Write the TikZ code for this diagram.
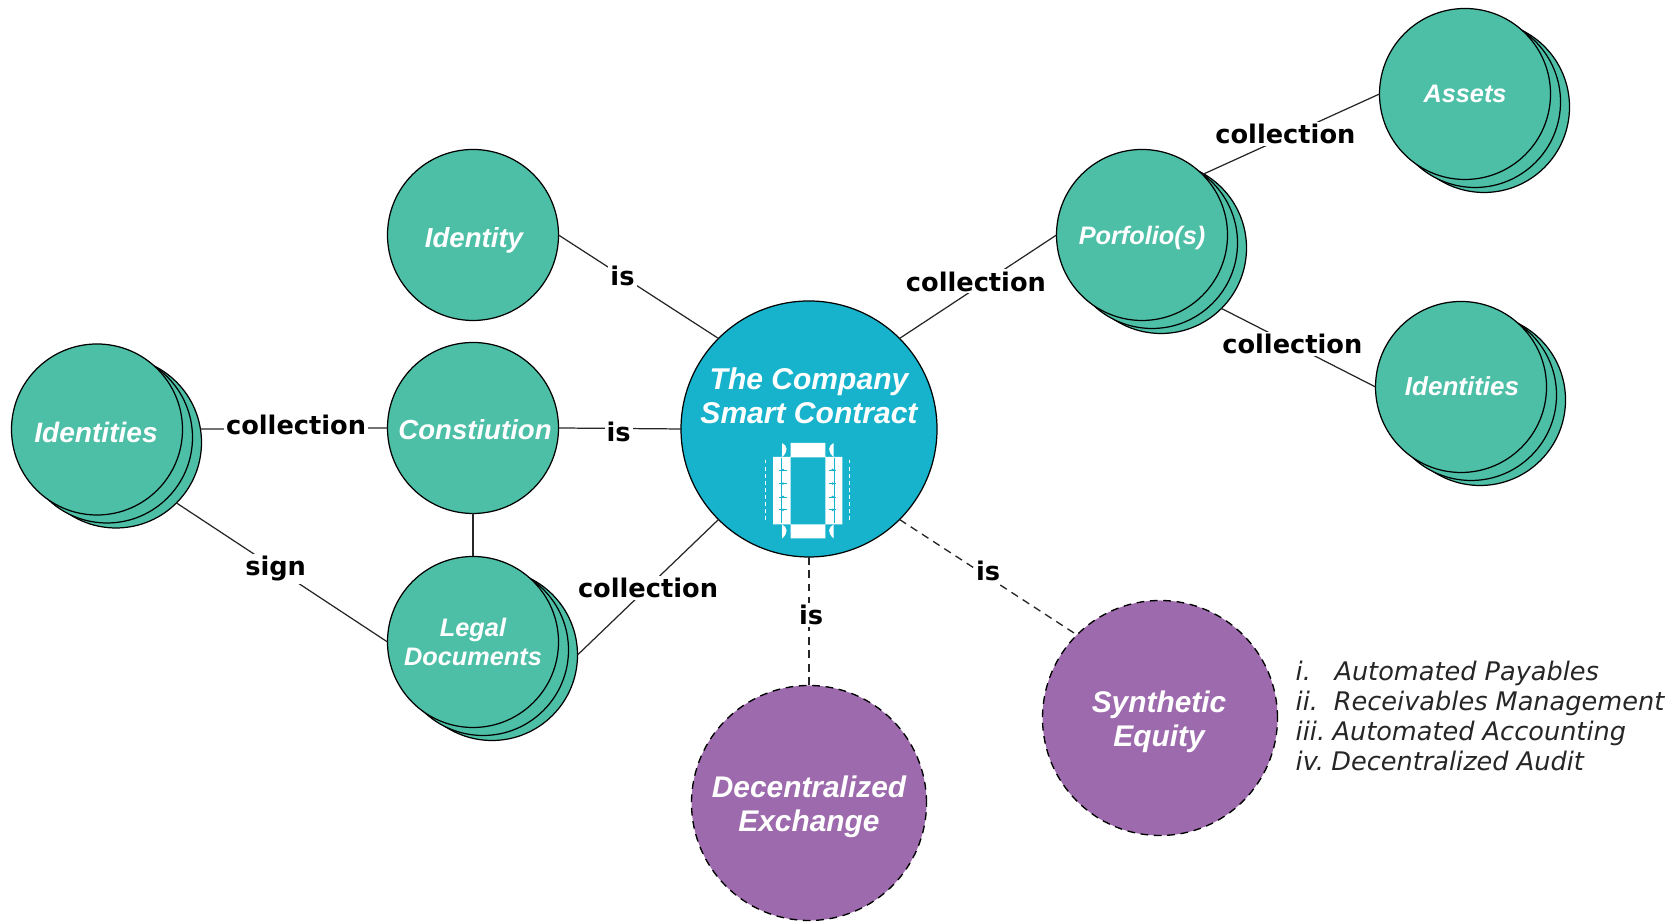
\documentclass[tikz,border=0pt]{standalone}
\usepackage{fontspec}
\setmainfont{DejaVu Sans}
\newfontfamily\circlefont{Liberation Sans}
\usetikzlibrary{positioning,calc,shapes}
\definecolor{tealgreen}{HTML}{4DBFA6}
\definecolor{contractblue}{HTML}{17B3CC}
\definecolor{dexpurple}{HTML}{9D6BAD}
\tikzset{
  conn/.style={line width=0.35pt,draw=black!85},
  dashconn/.style={line width=0.38pt,draw=black!85,dash pattern=on 2.2pt off 1.6pt},
  lbl/.style={font=\fontsize{7.3}{8}\selectfont\bfseries,fill=white,inner sep=0.6pt,text=black},
  ctext/.style 2 args={font=\circlefont\fontsize{#1}{#2}\selectfont\bfseries\itshape,text=white,align=center,inner sep=0pt},
  disc/.style={circle,draw=black,line width=0.35pt,fill=tealgreen,minimum size=1.71cm,inner sep=0pt,outer sep=0pt},
  purpledisc/.style={circle,draw=black,dash pattern=on 2.2pt off 1.6pt,line width=0.38pt,fill=dexpurple,minimum size=2.35cm,inner sep=0pt,outer sep=0pt}
}
\begin{document}
\begin{tikzpicture}
    \useasboundingbox (0,0) rectangle (16.72,9.22);
    \foreach \nm/\x/\y in {idsL/0.97/4.925, legal/4.73/2.80, port/11.42/6.87, assets/14.65/8.28, idsR/14.61/5.35} {
      \node at (\x+0.19,\y-0.13) [disc] (\nm Back) {};
      \node at (\x+0.10,\y-0.08) [disc] (\nm Mid) {};
      \node at (\x,\y) [disc] (\nm) {};
    }
    \node at (4.73,6.87) [disc] (identity) {};
    \node at (4.73,4.94) [disc] (const) {};
    \node at (8.09,4.93) [circle,draw=black,line width=0.35pt,fill=contractblue,minimum size=2.56cm,inner sep=0pt,outer sep=0pt] (main) {};
    \node at (8.09,1.19) [purpledisc] (dex) {};
    \node at (11.60,2.04) [purpledisc] (syn) {};

    \node at (0.96,4.90) [ctext={8}{9}] (idsLText) {Identities};
    \node at (4.73,2.80) [ctext={7.2}{8.45}] (legalText) {Legal\\Documents};
    \node at (11.42,6.84) [ctext={7.2}{9}] (portText) {Porfolio(s)};
    \node at (14.65,8.28) [ctext={7.2}{9}] (assetsText) {Assets};
    \node at (14.62,5.36) [ctext={7.4}{9}] (idsRText) {Identities};
    \node at (4.74,6.82) [ctext={7.85}{9}] (identityText) {Identity};
    \node at (4.75,4.92) [ctext={7.85}{9}] (constText) {Constiution};
    \node at (8.09,5.26) [ctext={8.55}{9.65}] (mainText) {The Company\\Smart Contract};
    \node at (8.09,1.15) [ctext={8.5}{9.65}] (dexText) {Decentralized\\Exchange};
    \node at (11.59,2.00) [ctext={8.5}{9.65}] (synText) {Synthetic\\Equity};

    \begin{scope}[x=0.003333cm,y=-0.003333cm,shift={(6.6cm,6.32cm)}]
      \fill[white] (393,460) rectangle (497,503) (393,705) rectangle (497,747)
        (340,502) rectangle (393,705) (497,502) rectangle (548,705);
      \draw[contractblue,line width=0.2pt] (365,505) -- (365,702) (523,505) -- (523,702);
      \foreach \py in {541,582,622,661} {
        \fill[contractblue] (370,\py) circle (4) (519,\py) circle (4);
        \draw[contractblue,line width=0.2pt] (359,\py) -- (381,\py) (508,\py) -- (530,\py);
      }
      \foreach \py in {460,705} {
        \fill[white] (367,\py) .. controls (383,\py+8) and (387,\py+25) .. (367,\py+42) -- cycle;
        \fill[white] (522,\py) .. controls (506,\py+8) and (502,\py+25) .. (522,\py+42) -- cycle;
      }
      \draw[white,line width=0.3pt,dash pattern=on 1.1pt off 0.9pt] (317,510) -- (317,695) (571,510) -- (571,695);
    \end{scope}

    \path[conn]
    (identity.east) edge node [lbl,pos=0.4] {is} (main.135)
    (const.east) edge node [lbl,yshift=-0.9pt,xshift=-0.3pt] {is} (main.west)
    (idsLBack.9) edge node [lbl,yshift=1pt,xshift=0.6pt] {collection} (const.west)
    (idsLBack.-45) edge node [lbl,pos=0.47,yshift=-0.2pt] {sign} (legal.west)
    (const.south) edge (legal.north)
    (legalBack.east) edge node [lbl,yshift=-0.3pt] {collection} (main.-135)
    (main.45) edge node [lbl,xshift=-0.6pt,yshift=1.5pt] {collection} (port.west)
    (port.45) edge node [lbl,xshift=-1.6pt] {collection} (assets.west)
    (portBack.-45) edge node [lbl,pos=0.46,yshift=0.2pt] {collection} (idsR.west);
    \path[dashconn]
    (main.south) edge node [lbl,pos=0.45,xshift=0.6pt] {is} (dex.north)
    (main.-45) edge node [lbl,pos=0.5,yshift=1.7pt] {is} (syn.135);

    \node at (12.95,2.06) [anchor=west,align=left,inner sep=0pt,font=\fontsize{7.28}{8.5}\selectfont\itshape,text=black!85] (notes) {i.\hspace{6.7pt}Automated Payables\\ii.\hspace{4.5pt}Receivables Management\\iii.\hspace{2.1pt}Automated Accounting\\iv.\hspace{2.1pt}Decentralized Audit};
\end{tikzpicture}
\end{document}
